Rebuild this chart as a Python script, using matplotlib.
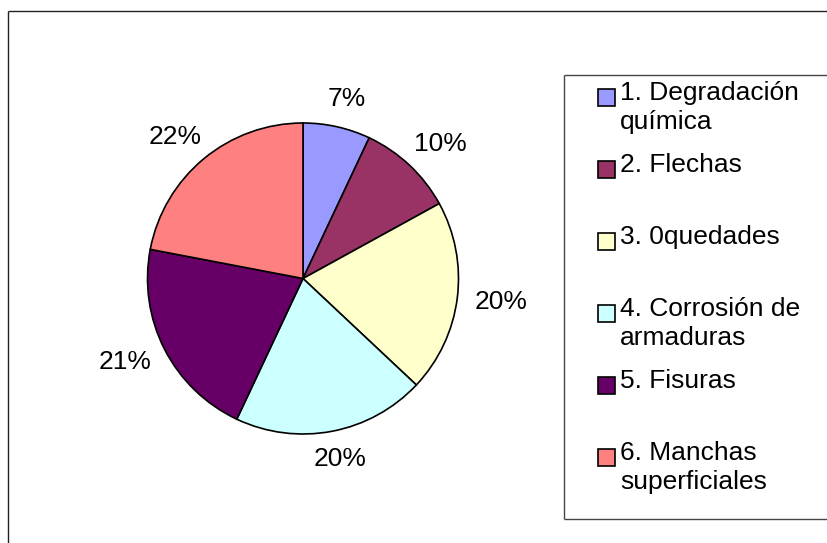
import matplotlib.pyplot as plt
from matplotlib.patches import Rectangle
from matplotlib.lines import Line2D
import numpy as np

categories = ['1. Degradación\nquímica', '2. Flechas', '3. 0quedades',
              '4. Corrosión de\narmaduras', '5. Fisuras', '6. Manchas\nsuperficiales']
values = [7, 10, 20, 20, 21, 22]
colors = ['#9999FF', '#993366', '#FFFFCC', '#CCFFFF', '#660066', '#FF8080']

plt.rcParams['font.family'] = ['Liberation Sans', 'DejaVu Sans']
FS = 19

W, H = 827, 543
fig = plt.figure(figsize=(W / 100, H / 100), dpi=100)


def fig_line(xs, ys, color='#222222'):
    # pixel coords, origin top-left
    fig.add_artist(Line2D([x / W for x in xs], [1 - y / H for y in ys],
                          color=color, lw=1.0, solid_capstyle='butt'))


# outer chart frame (only top and left edges visible)
fig_line([8, 8], [11, H - 0.5])
fig_line([8, W - 0.5], [11, 11])

# pie
cx, cy, r = 303, 278.5, 155.5
ax = fig.add_axes([(cx - r) / W, (H - cy - r) / H, 2 * r / W, 2 * r / H])
wedges, _ = ax.pie(values, colors=colors, startangle=90, counterclock=False,
                   wedgeprops=dict(edgecolor='black', linewidth=1.2))
ax.set_xlim(-1, 1)
ax.set_ylim(-1, 1)
ax.set_axis_off()

# percentage labels outside the slices
gap = 16.5 / r
hw, hh = 28 / r, 12 / r
for w, v in zip(wedges, values):
    a = np.deg2rad((w.theta1 + w.theta2) / 2)
    ux, uy = np.cos(a), np.sin(a)
    x = (1 + gap + hw) * ux
    y = (1 + gap + hh) * uy
    ax.text(x, y, f'{v}%', ha='center', va='center', fontsize=FS, clip_on=False)

# legend box (right edge is cut off by the image)
lx, ltop, lbot = 564, 75, 519
fig_line([lx, lx], [ltop, lbot], color='#444444')
fig_line([lx, W - 0.5], [ltop, ltop], color='#444444')
fig_line([lx, W - 0.5], [lbot, lbot], color='#444444')

y0, step = 97, 72
for i, (lab, c) in enumerate(zip(categories, colors)):
    yy = y0 + i * step
    fig.add_artist(Rectangle((598 / W, 1 - (yy + 9) / H), 17 / W, 17 / H,
                             transform=fig.transFigure, facecolor=c,
                             edgecolor='black', lw=1.2))
    fig.text(620 / W, 1 - (yy - 16) / H, lab, ha='left', va='top',
             fontsize=FS, linespacing=1.25)

fig.savefig('out.png', dpi=100)
